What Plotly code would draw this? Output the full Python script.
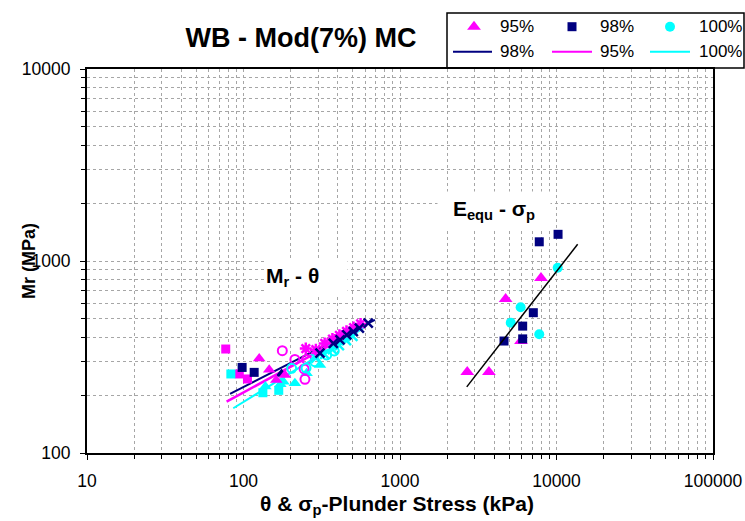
import plotly.graph_objects as go

MAGENTA = "#FF00FF"
NAVY = "#000080"
CYAN = "#00FFFF"
FONT = "Arial, Liberation Sans, sans-serif"
W, H = 745, 521

# ---------------- Eequ - sigma_p data ----------------
eq95_x = [2690, 3700, 4730, 5930, 7960]
eq95_y = [264, 264, 634, 383, 815]
eq98_x = [4620, 6080, 6080, 7110, 7760, 10230]
eq98_y = [383, 393, 458, 538, 1259, 1377]
eq100_x = [5100, 5900, 7760, 10180]
eq100_y = [477, 574, 415, 923]
eq_fit_x = [2670, 13650]
eq_fit_y = [221, 1222]

# ---------------- Mr - theta data ----------------
mr_fit98_x = [82, 692]
mr_fit98_y = [203, 493]
mr_fit95_x = [78, 613]
mr_fit95_y = [185, 464]
mr_fit100_x = [86, 583]
mr_fit100_y = [171, 447]

mr_sq95_x = [77, 94, 106]
mr_sq95_y = [348, 258, 243]
mr_sq98_x = [98, 117]
mr_sq98_y = [279, 263]
mr_sq100_x = [83, 133, 168]
mr_sq100_y = [258, 206, 212]

mr_tri95_x = [126, 146, 184, 162]
mr_tri95_y = [311, 271, 255, 240]
mr_tri98_x = [175]
mr_tri98_y = [258]
mr_tri100_x = [138, 172, 180, 213, 253, 308]
mr_tri100_y = [222, 228, 235, 231, 260, 287]

mr_oc95_x = [177, 213, 253, 244, 247]
mr_oc95_y = [341, 307, 307, 274, 242]
mr_oc100_x = [203, 251, 286, 340, 380]
mr_oc100_y = [276, 277, 299, 324, 340]

mr_ast95_x = [250, 290, 330, 370, 410, 455, 505, 560]
mr_ast95_y = [350, 345, 372, 392, 410, 430, 450, 470]
mr_x98_x = [308, 375, 414, 457, 503, 550, 627]
mr_x98_y = [331, 372, 388, 412, 429, 447, 475]
mr_x100_x = [290, 330, 370, 410, 455, 500]
mr_x100_y = [312, 326, 345, 362, 385, 405]

# legend labels
leg_marker_labels = ["95%", "98%", "100%"]
leg_line_labels = ["98%", "95%", "100%"]

fig = go.Figure()

fig.add_trace(go.Scatter(x=eq95_x, y=eq95_y, mode="markers", name="95%",
                         marker=dict(symbol="triangle-up", size=12, color=MAGENTA)))
fig.add_trace(go.Scatter(x=eq98_x, y=eq98_y, mode="markers", name="98%",
                         marker=dict(symbol="square", size=9, color=NAVY)))
fig.add_trace(go.Scatter(x=eq100_x, y=eq100_y, mode="markers", name="100%",
                         marker=dict(symbol="circle", size=10, color=CYAN)))
fig.add_trace(go.Scatter(x=mr_fit98_x, y=mr_fit98_y, mode="lines", name="98%",
                         line=dict(color=NAVY, width=2)))
fig.add_trace(go.Scatter(x=mr_fit95_x, y=mr_fit95_y, mode="lines", name="95%",
                         line=dict(color=MAGENTA, width=2.5)))
fig.add_trace(go.Scatter(x=mr_fit100_x, y=mr_fit100_y, mode="lines", name="100%",
                         line=dict(color=CYAN, width=2)))
fig.add_trace(go.Scatter(x=eq_fit_x, y=eq_fit_y, mode="lines",
                         line=dict(color="black", width=1.5)))


def mk(x, y, symbol, size, color, lw=0):
    fig.add_trace(go.Scatter(x=x, y=y, mode="markers",
                             marker=dict(symbol=symbol, size=size, color=color,
                                         line=dict(color=color, width=lw))))


mk(mr_sq95_x, mr_sq95_y, "square", 9, MAGENTA)
mk(mr_sq100_x, mr_sq100_y, "square", 9, CYAN)
mk(mr_sq98_x, mr_sq98_y, "square", 9, NAVY)
mk(mr_tri100_x, mr_tri100_y, "triangle-up", 11, CYAN)
mk(mr_tri98_x, mr_tri98_y, "triangle-up", 11, NAVY)
mk(mr_tri95_x, mr_tri95_y, "triangle-up", 11, MAGENTA)
mk(mr_oc95_x, mr_oc95_y, "circle-open", 9, MAGENTA, 2)
mk(mr_oc100_x, mr_oc100_y, "circle-open", 9, CYAN, 2)
mk(mr_x100_x, mr_x100_y, "x-thin-open", 9, CYAN, 2.5)
mk(mr_ast95_x, mr_ast95_y, "asterisk-open", 10, MAGENTA, 2.5)
mk(mr_x98_x, mr_x98_y, "x-thin-open", 9, NAVY, 2.5)

# ---- legend (built manually in a helper axis whose units are pixels) ----
LX0, LX1, LY0, LY1 = 447, 744, 13, 68
row1, row2 = 26.7, 51.7
col_sym = [474, 572, 670]
col_txt = [498, 598, 697]
line_spans = [(453, 492), (552, 592), (650, 690)]
sym_list = ["triangle-up", "square", "circle"]
sym_size = [12, 9, 10]
sym_col = [MAGENTA, NAVY, CYAN]
line_col = [NAVY, MAGENTA, CYAN]

for i in range(3):
    fig.add_trace(go.Scatter(x=[col_sym[i]], y=[row1], mode="markers", xaxis="x2", yaxis="y2",
                             marker=dict(symbol=sym_list[i], size=sym_size[i], color=sym_col[i])))
    fig.add_trace(go.Scatter(x=list(line_spans[i]), y=[row2, row2], mode="lines",
                             xaxis="x2", yaxis="y2",
                             line=dict(color=line_col[i], width=2)))

fig.update_traces(showlegend=False)

grid = dict(showgrid=True, gridcolor="#a6a6a6", griddash="dot", gridwidth=1)
axis_common = dict(type="log", showline=True, linecolor="black", linewidth=2, mirror=True,
                   ticks="outside", ticklen=5, tickwidth=1.2, tickcolor="black",
                   zeroline=False, dtick=1, tickformat="d", automargin=False,
                   tickfont=dict(family=FONT, size=17.5, color="black"),
                   minor=dict(dtick="D1", ticks="outside", ticklen=4, tickwidth=1,
                              tickcolor="black", **grid),
                   **grid)

PL, PR, PT, PB = 87, 713, 69, 453
fig.update_layout(
    xaxis=dict(range=[1, 5], ticklabelstandoff=6, domain=[PL / W, PR / W], **axis_common),
    yaxis=dict(range=[2, 4], ticklabelstandoff=6, domain=[1 - PB / H, 1 - PT / H], **axis_common),
    xaxis2=dict(domain=[LX0 / W, LX1 / W], range=[LX0, LX1], visible=False, anchor="y2",
                automargin=False),
    yaxis2=dict(domain=[1 - LY1 / H, 1 - LY0 / H], range=[LY1, LY0], visible=False, anchor="x2",
                automargin=False),
)

annotations = [
    dict(text="<b>θ & σ<sub>p</sub>-Plunder Stress (kPa)</b>", x=397 / W, y=1 - 505 / H,
         xanchor="center", yanchor="middle", font=dict(family=FONT, size=21, color="black")),
    dict(text="<b>Mr (MPa)</b>", textangle=-90, x=29 / W, y=1 - 261 / H,
         xanchor="center", yanchor="middle", font=dict(family=FONT, size=18, color="black")),
    dict(text="<b>M<sub>r</sub> - θ</b>", x=306 / W, y=1 - 277 / H,
         xanchor="center", yanchor="middle", bgcolor="white", width=80, height=32, align="left",
         font=dict(family=FONT, size=21, color="black")),
    dict(text="<b>E<sub>equ</sub> - σ<sub>p</sub></b>", x=494 / W, y=1 - 210 / H,
         xanchor="center", yanchor="middle", bgcolor="white", width=110, height=34, align="center",
         font=dict(family=FONT, size=21, color="black")),
]
for i in range(3):
    annotations.append(dict(text=leg_marker_labels[i], x=col_txt[i] / W, y=1 - row1 / H,
                            xanchor="left", yanchor="middle",
                            font=dict(family=FONT, size=17, color="black")))
    annotations.append(dict(text=leg_line_labels[i], x=col_txt[i] / W, y=1 - row2 / H,
                            xanchor="left", yanchor="middle",
                            font=dict(family=FONT, size=17, color="black")))
for a in annotations:
    a.update(xref="paper", yref="paper", showarrow=False)

fig.update_layout(
    width=W, height=H,
    margin=dict(l=0, r=0, t=0, b=0, pad=0, autoexpand=False),
    paper_bgcolor="white", plot_bgcolor="white",
    font=dict(family=FONT, size=17, color="black"),
    title=dict(text="<b>WB - Mod(7%) MC</b>", font=dict(family=FONT, size=27, color="black"),
               x=301 / W, xref="container", xanchor="center",
               y=1 - 38 / H, yref="container", yanchor="middle"),
    annotations=annotations,
    shapes=[dict(type="rect", xref="paper", yref="paper", x0=LX0 / W, x1=LX1 / W,
                 y0=1 - LY1 / H, y1=1 - LY0 / H, line=dict(color="black", width=1.5),
                 fillcolor="rgba(0,0,0,0)", layer="above")],
)

fig.write_html("out.html")
